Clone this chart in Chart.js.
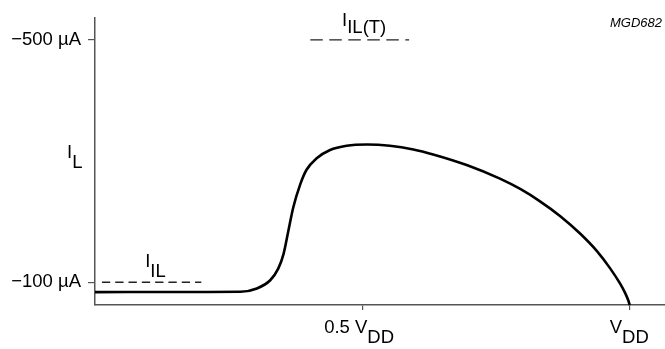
<!DOCTYPE html>
<html>
<head>
<meta charset="utf-8">
<script src="https://cdn.jsdelivr.net/npm/chart.js@4"></script>
<style>
  html,body{margin:0;padding:0;background:#fff;}
  #wrap{width:665px;height:349px;position:relative;}
</style>
</head>
<body>
<div id="wrap"><canvas id="c"></canvas></div>
<script>
// ---- data (x in units of VDD, y = |I| in µA, plotted upward as more negative) ----
const curveX = [0, 0.197, 0.272, 0.303, 0.328, 0.343, 0.353, 0.362, 0.371, 0.384, 0.396, 0.415, 0.440, 0.471, 0.509, 0.552, 0.596, 0.633, 0.697, 0.758, 0.796, 0.833, 0.871, 0.908, 0.940, 0.964, 0.983, 0.9925, 0.998, 1.001];
const curveY = [83.7, 84.0, 84.2, 89.7, 103.3, 122.4, 146.9, 184.9, 222.9, 261.1, 285.6, 304.6, 318.3, 325.3, 327.4, 325.3, 319.2, 311.0, 293.1, 271.0, 253.9, 233.5, 209.0, 180.4, 151.0, 123.3, 97.6, 82.0, 70.6, 62.4];
const iilX = [0.013, 0.199];      // I_IL reference (dashed)
const iilY = [100, 100];
const iiltX = [0.403, 0.588];     // I_IL(T) reference (dashed)
const iiltY = [500, 500];
const yTickValues = [100, 500];
const yTickLabels = ['\u2212100 \u00b5A', '\u2212500 \u00b5A'];
const xTickValues = [0.5, 1];
const xTickMain = ['0.5 V', 'V'];
const xTickSub = ['DD', 'DD'];

const FONT = '"Liberation Sans", Arial, Helvetica, sans-serif';
const FS = 18.5;
const AXIS = '#555';

const toPts = (xs, ys) => xs.map((x, i) => ({x: x, y: ys[i]}));

function subText(ctx, main, sub, x, y, size, dy) {
  ctx.font = size + 'px ' + FONT;
  ctx.fillText(main, x, y);
  const w = ctx.measureText(main).width;
  ctx.fillText(sub, x + w, y + dy);
}
function subWidth(ctx, main, sub, size) {
  ctx.font = size + 'px ' + FONT;
  return ctx.measureText(main).width + ctx.measureText(sub).width;
}

const textPlugin = {
  id: 'texts',
  afterDraw(chart) {
    const ctx = chart.ctx, xs = chart.scales.x, ys = chart.scales.y, ca = chart.chartArea;
    ctx.save();
    ctx.fillStyle = '#000';
    ctx.textAlign = 'left';
    ctx.textBaseline = 'alphabetic';
    // x tick labels with subscripts
    xTickValues.forEach((v, i) => {
      const px = xs.getPixelForValue(v);
      const w = subWidth(ctx, xTickMain[i], xTickSub[i], FS);
      subText(ctx, xTickMain[i], xTickSub[i], px - w / 2 - (i === 0 ? 3 : 0), ca.bottom + 28, FS, 10);
    });
    // axis title I_L
    subText(ctx, 'I', 'L', ca.left - 28, 158, FS, 10);
    // I_IL label
    subText(ctx, 'I', 'IL', xs.getPixelForValue(0.094), ys.getPixelForValue(iilY[0]) - 15, FS, 10);
    // I_IL(T) label
    subText(ctx, 'I', 'IL(T)', xs.getPixelForValue(0.4625), ys.getPixelForValue(iiltY[0]) - 14, FS, 7.5);
    // figure code
    ctx.font = 'italic 13px ' + FONT;
    ctx.textAlign = 'right';
    ctx.fillText('MGD682', chart.width - 3, 27);
    ctx.restore();
  }
};

new Chart(document.getElementById('c'), {
  type: 'line',
  data: {
    datasets: [
      {data: toPts(curveX, curveY), borderColor: '#000', borderWidth: 2.6, pointRadius: 0, cubicInterpolationMode: 'monotone', clip: false},
      {data: toPts(iilX, iilY), borderColor: '#222', borderWidth: 1.4, borderDash: [8.3, 5], pointRadius: 0},
      {data: toPts(iiltX, iiltY), borderColor: '#222', borderWidth: 1.4, borderDash: [12.5, 6.5], pointRadius: 0}
    ]
  },
  options: {
    responsive: true,
    maintainAspectRatio: false,
    animation: false,
    devicePixelRatio: 1,
    layout: {padding: {top: 15, right: 0, left: 0, bottom: 0}},
    plugins: {legend: {display: false}, tooltip: {enabled: false}},
    scales: {
      x: {
        type: 'linear', min: 0, max: 1.067,
        afterBuildTicks: s => { s.ticks = xTickValues.map(v => ({value: v})); },
        afterFit: s => { s.height = 44; },
        ticks: {callback: () => '', font: {size: FS, family: FONT}},
        grid: {drawOnChartArea: false, drawTicks: true, tickLength: 5, color: AXIS, lineWidth: 1.2},
        border: {color: AXIS, width: 1.5}
      },
      y: {
        type: 'linear', min: 62.45, max: 535.9,
        afterBuildTicks: s => { s.ticks = yTickValues.map(v => ({value: v})); },
        afterFit: s => { s.width = 95; },
        ticks: {
          color: '#000', padding: 7,
          font: {size: FS, family: FONT},
          callback: (v) => { const i = yTickValues.indexOf(v); return i >= 0 ? yTickLabels[i] : ''; }
        },
        grid: {drawOnChartArea: false, drawTicks: true, tickLength: 7, color: AXIS, lineWidth: 1.2},
        border: {color: AXIS, width: 1.5}
      }
    }
  },
  plugins: [textPlugin]
});
</script>
</body>
</html>
